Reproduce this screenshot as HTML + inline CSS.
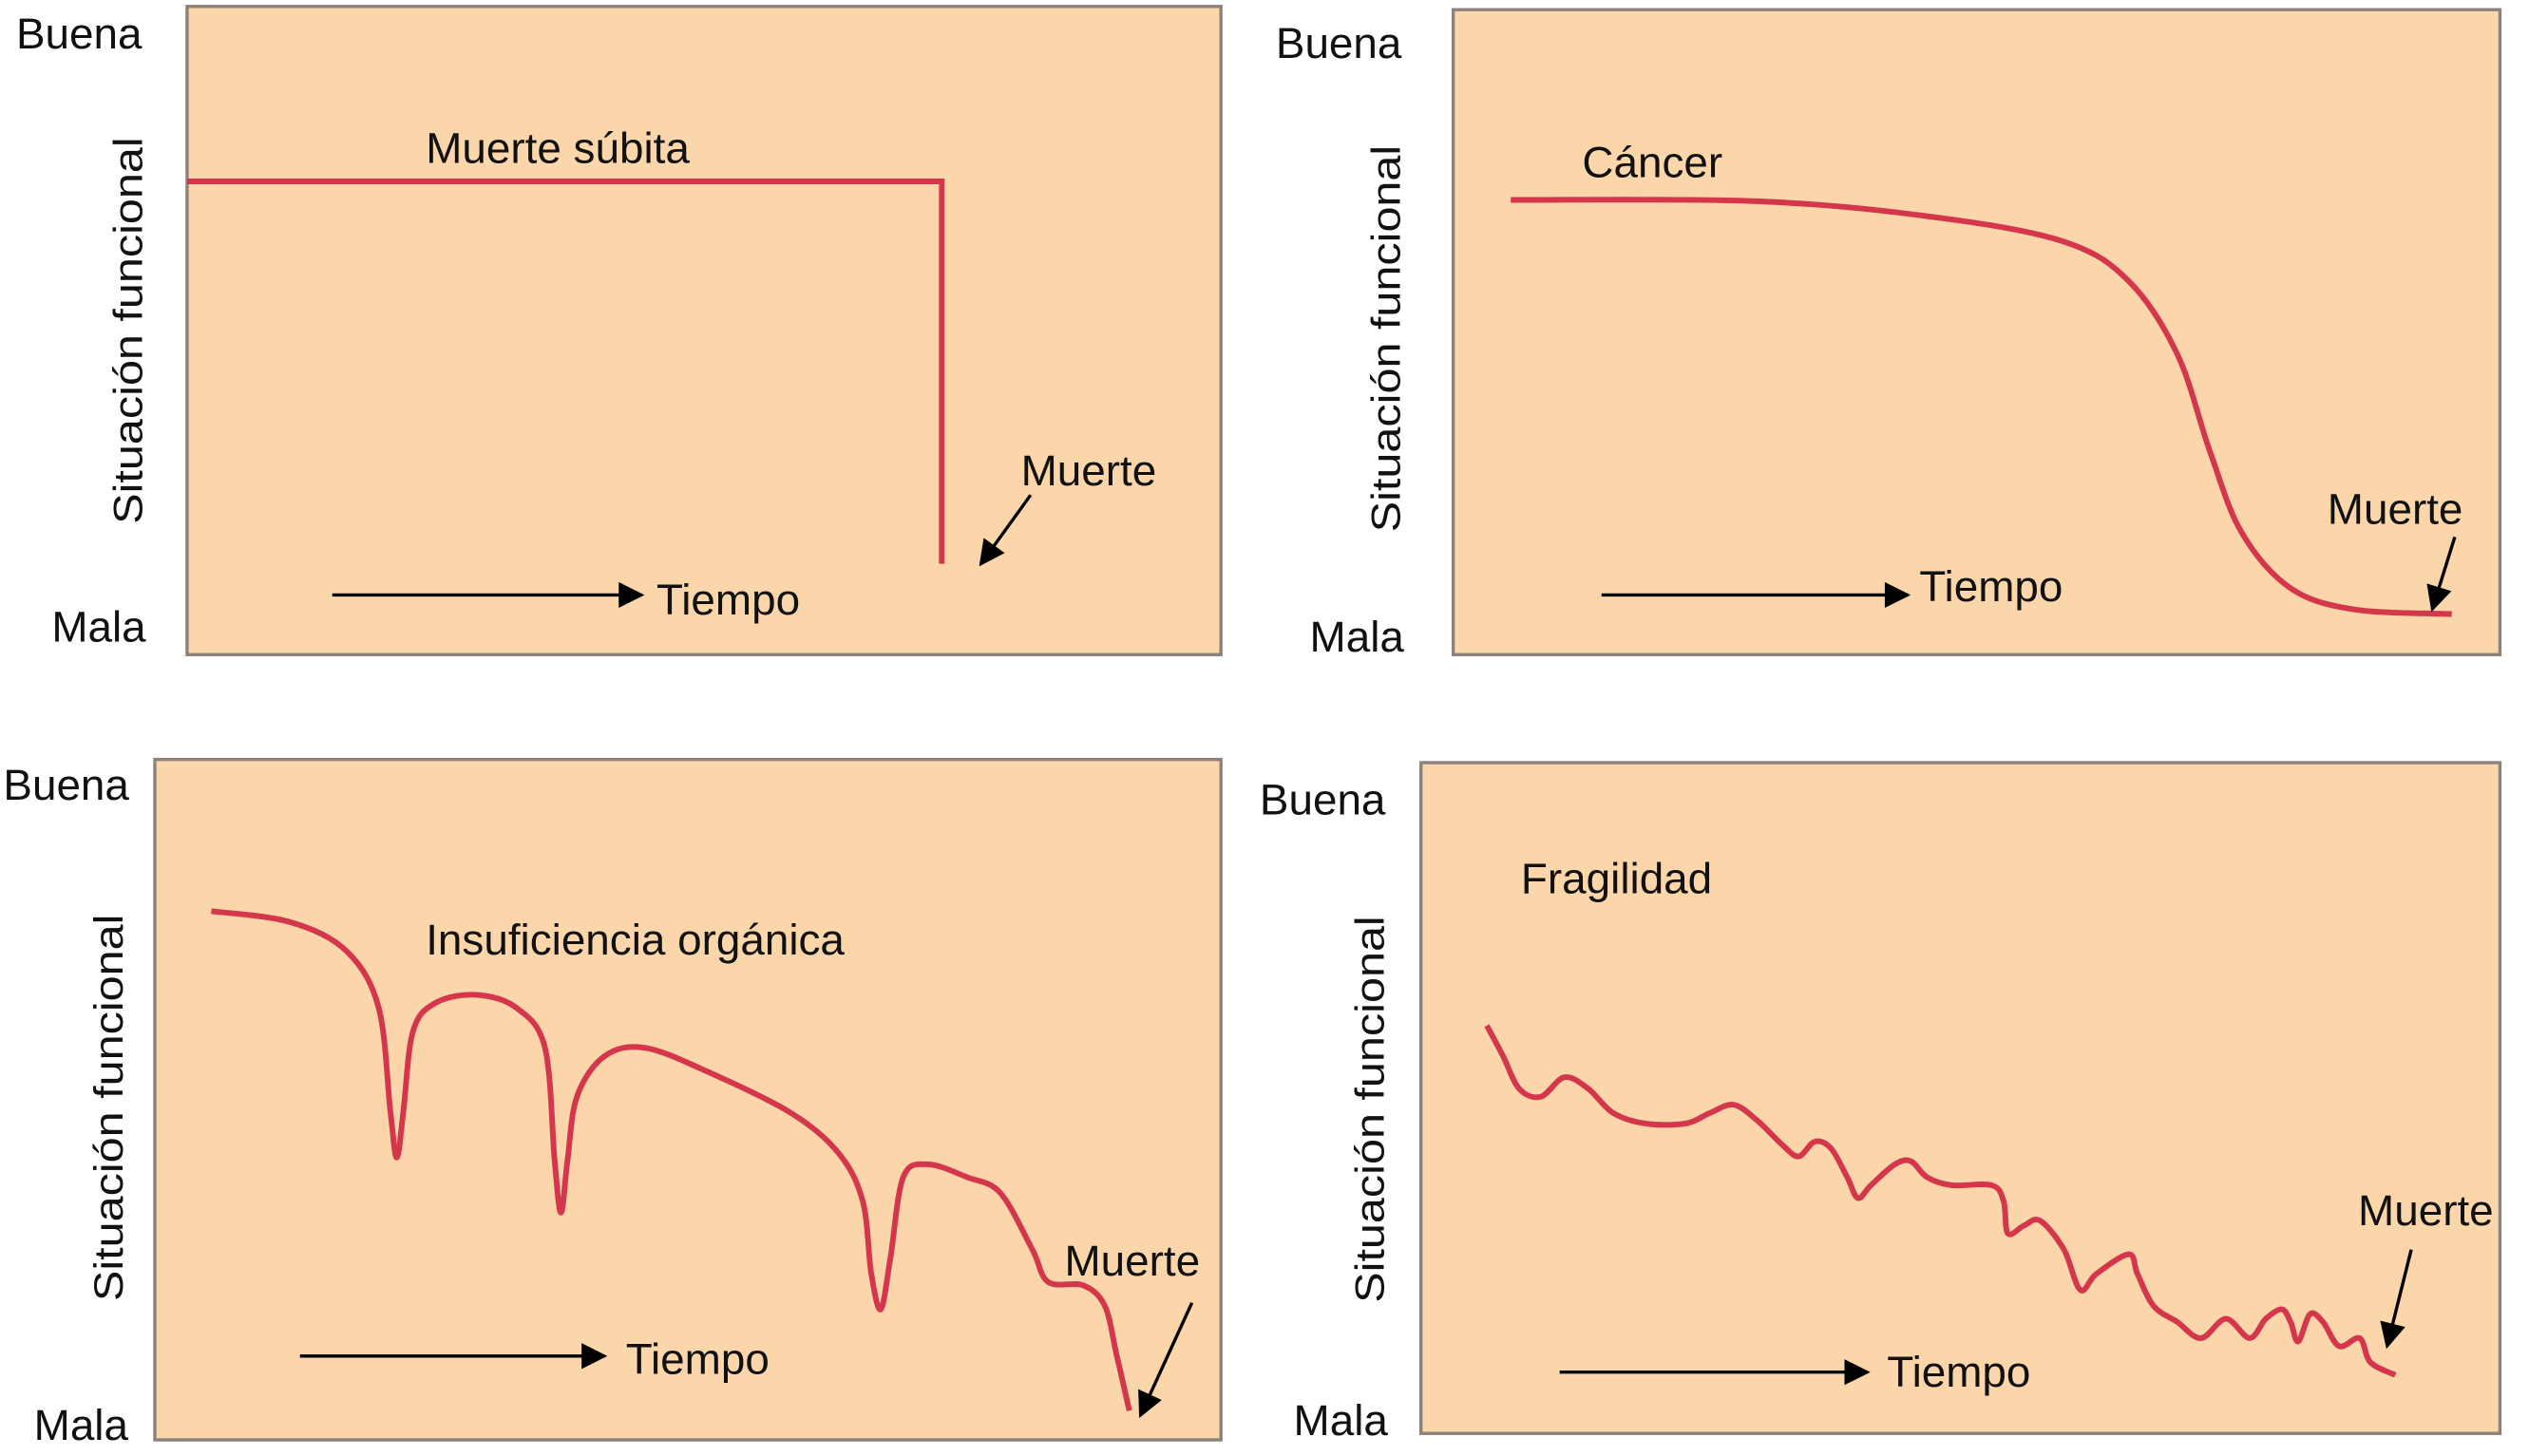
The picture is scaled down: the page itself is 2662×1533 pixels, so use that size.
<!DOCTYPE html>
<html><head><meta charset="utf-8">
<style>
html,body{margin:0;padding:0;background:#fff;}
svg{display:block;}
text{font-family:"Liberation Sans Narrow","Liberation Sans",sans-serif;fill:#111;font-size:27px;}
.v{font-family:"Liberation Sans",sans-serif;font-size:25px;}
</style></head>
<body>
<svg id="chart" width="2662" height="1533" viewBox="0 0 1568 903" preserveAspectRatio="none" xmlns="http://www.w3.org/2000/svg"></svg>
<script>
// Panel 1: Muerte súbita
const suddenTime = [0, 73, 73];
const suddenValue = [73, 73, 14];
// Panel 2: Cáncer
const cancerTime = [5.5, 29.1, 46.1, 58.4, 64.6, 69.2, 72.3, 75.3, 80.0, 86.1, 95.4];
const cancerValue = [70.5, 70.3, 67.8, 64.0, 57.8, 46.5, 31.5, 19.0, 10.3, 7.0, 6.3];
// Panel 3: Insuficiencia orgánica
const organTime = [5.3,12.7,18.0,21.0,22.1,22.7,23.3,24.2,26.3,30.1,33.9,36.6,37.5,38.1,38.7,39.6,42.2,46.0,52.0,59.6,64.1,66.4,67.2,68.1,69.0,70.2,72.5,76.2,79.3,82.3,83.8,87.1,89.1,90.2,91.4];
const organValue = [77.7,76.1,71.8,63.5,48.1,41.5,48.1,60.0,64.2,65.4,63.5,57.6,41.0,33.4,41.0,50.5,56.4,57.6,54.0,48.1,42.2,35.1,24.4,19.2,26.8,38.6,40.5,38.6,36.3,28.0,23.2,22.7,19.7,12.6,4.3];
// Panel 4: Fragilidad
const frailTime = [6.1,7.6,9.1,11.1,13.3,15.5,17.8,20.8,24.5,26.8,29.0,31.2,33.5,35.0,36.5,38.0,39.5,40.5,41.7,43.9,45.4,46.9,49.2,52.9,54.0,54.4,55.9,57.4,59.6,61.1,62.6,65.6,66.4,67.9,70.1,72.3,74.6,76.8,78.3,79.8,80.6,81.3,82.4,83.6,85.1,87.0,88.0,90.3];
const frailValue = [60.8,56.3,51.4,50.2,53.1,51.4,47.8,46.2,46.2,47.8,49.0,46.6,43.0,41.3,43.5,42.5,38.2,35.1,37.0,40.1,40.6,38.2,37.0,37.0,34.6,29.8,31.0,31.7,27.4,21.4,23.8,26.7,23.8,19.0,16.6,14.2,17.1,14.2,17.1,18.5,16.6,13.7,17.8,16.6,13.0,14.2,10.6,8.7];

const NS = "http://www.w3.org/2000/svg";
const svg = document.getElementById('chart');
function mk(tag, attrs, parent){
  const e = document.createElementNS(NS, tag);
  for (const k in attrs) e.setAttribute(k, attrs[k]);
  (parent||svg).appendChild(e);
  return e;
}
const defs = mk('defs', {});
const mkr = mk('marker', {id:'ah', viewBox:'0 0 10 10', refX:'9', refY:'5', markerWidth:'9', markerHeight:'8', orient:'auto-start-reverse', markerUnits:'strokeWidth'}, defs);
mk('path', {d:'M0,0 L10,5 L0,10 z', fill:'#000'}, mkr);

function smoothPath(pts, straight){
  if (straight) return 'M' + pts.map(p=>p[0].toFixed(1)+','+p[1].toFixed(1)).join(' L');
  let d = 'M' + pts[0][0] + ',' + pts[0][1];
  for (let i=0;i<pts.length-1;i++){
    const p0=pts[Math.max(0,i-1)], p1=pts[i], p2=pts[i+1], p3=pts[Math.min(pts.length-1,i+2)];
    const c1=[p1[0]+(p2[0]-p0[0])/6, p1[1]+(p2[1]-p0[1])/6];
    const c2=[p2[0]-(p3[0]-p1[0])/6, p2[1]-(p3[1]-p1[1])/6];
    d += ` C${c1[0].toFixed(1)},${c1[1].toFixed(1)} ${c2[0].toFixed(1)},${c2[1].toFixed(1)} ${p2[0].toFixed(1)},${p2[1].toFixed(1)}`;
  }
  return d;
}

const panels = [
  {id:'sudden', box:[116,4,757,406], times:suddenTime, values:suddenValue, straight:true,
   buena:[10,30], mala:[32,398], vlab:[88,205], title:['Muerte súbita',264,101],
   muerte:[633,301], marrow:[639,307,608,350], tarrow:[206,398,369], tiempo:[407,381]},
  {id:'cancer', box:[901,6,1550,406], times:cancerTime, values:cancerValue,
   buena:[791,36], mala:[812,404], vlab:[868,210], title:['Cáncer',981,110],
   muerte:[1443,325], marrow:[1522,333,1508,378], tarrow:[993,1183,369], tiempo:[1190,373]},
  {id:'organ', box:[96,471,757,893], times:organTime, values:organValue,
   buena:[2,496], mala:[21,893], vlab:[76,687], title:['Insuficiencia orgánica',264,592],
   muerte:[660,791], marrow:[739,808,707,878], tarrow:[186,375,841], tiempo:[388,852]},
  {id:'frailty', box:[881,473,1550,889], times:frailTime, values:frailValue,
   buena:[781,505], mala:[802,890], vlab:[858,688], title:['Fragilidad',943,554],
   muerte:[1462,760], marrow:[1495,775,1480,835], tarrow:[967,1158,851], tiempo:[1170,860]}
];

panels.forEach(p=>{
  const [l,t,r,b] = p.box;
  const g = mk('g', {});
  
  
  const rect = mk('rect', {x:l, y:t, width:r-l, height:b-t, fill:'#fcd6ab', stroke:'#8d827b', 'stroke-width':2}, g);
  
  
  const xs = v => l + v/100*(r-l);
  const ys = v => b - v/100*(b-t);
  const pts = p.times.map((tm,i)=>[xs(tm), ys(p.values[i])]);
  const path = mk('path', {d:smoothPath(pts, p.straight), fill:'none', stroke:'#d4374b', 'stroke-width':3.5, 'stroke-linejoin':'miter', 'stroke-linecap':'butt'}, g);
  
  

  const tb = mk('text', {x:p.buena[0], y:p.buena[1]}, g); tb.textContent='Buena';
  
  
  const tm = mk('text', {x:p.mala[0], y:p.mala[1]}, g); tm.textContent='Mala';
  
  
  const tv = mk('text', {x:0, y:0, 'class':'v', 'text-anchor':'middle', textLength:240, lengthAdjust:'spacingAndGlyphs', transform:`translate(${p.vlab[0]},${p.vlab[1]}) rotate(-90)`}, g);
  tv.textContent='Situación funcional';
  
  
  const tt = mk('text', {x:p.title[1], y:p.title[2]}, g); tt.textContent=p.title[0];
  
  
  const tmu = mk('text', {x:p.muerte[0], y:p.muerte[1]}, g); tmu.textContent='Muerte';
  
  
  const a = p.marrow;
  const da = mk('line', {x1:a[0], y1:a[1], x2:a[2], y2:a[3], stroke:'#000', 'stroke-width':2, 'marker-end':'url(#ah)'}, g);
  
  
  const ta = p.tarrow;
  const tl = mk('line', {x1:ta[0], y1:ta[2], x2:ta[1], y2:ta[2], stroke:'#000', 'stroke-width':2, 'marker-end':'url(#ah)'}, g);
  
  
  const tti = mk('text', {x:p.tiempo[0], y:p.tiempo[1]}, g); tti.textContent='Tiempo';
  
  
});
</script>
</body></html>
